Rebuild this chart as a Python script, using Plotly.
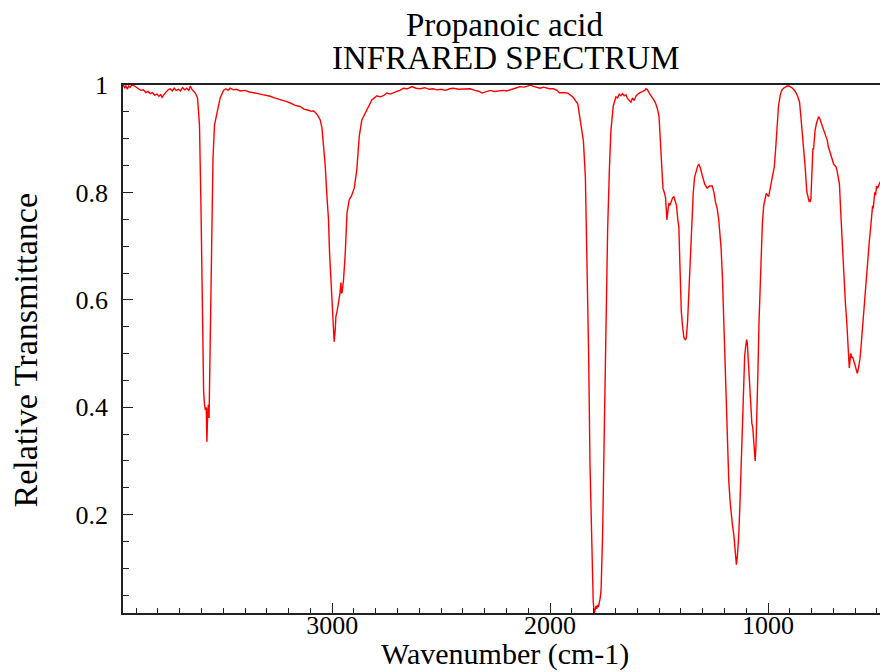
# IR spectrum of propanoic acid, redrawn with Plotly.

import plotly.graph_objects as go

# wavenumber (cm-1) and relative transmittance
wavenumber = [
    3963, 3958, 3952, 3947, 3940, 3934, 3927, 3920, 3911, 3900, 3890, 3878, 3866, 3855,
    3845, 3835, 3825, 3815, 3804, 3795, 3787, 3781, 3772, 3766, 3758, 3750, 3743, 3734,
    3725, 3716, 3705, 3696, 3687, 3676, 3667, 3658, 3651, 3644, 3636, 3628, 3618, 3609,
    3602, 3596, 3590, 3586, 3582, 3578, 3575, 3571, 3568, 3565, 3562, 3558, 3554, 3547,
    3540, 3529, 3514, 3499, 3488, 3478, 3468, 3453, 3440, 3422, 3400, 3380, 3361, 3340,
    3320, 3300, 3284, 3265, 3245, 3225, 3208, 3190, 3170, 3147, 3130, 3109, 3095, 3086,
    3075, 3063, 3055, 3047, 3040, 3032, 3024, 3017, 3012, 3006, 3001, 2996, 2991, 2986,
    2983, 2977, 2971, 2965, 2960, 2957, 2954, 2948, 2940, 2932, 2922, 2910, 2899, 2887,
    2876, 2864, 2849, 2834, 2818, 2795, 2780, 2765, 2749, 2734, 2715, 2703, 2690, 2673,
    2655, 2634, 2615, 2596, 2575, 2555, 2537, 2520, 2500, 2480, 2461, 2444, 2420, 2395,
    2367, 2345, 2325, 2313, 2300, 2288, 2275, 2255, 2235, 2215, 2199, 2180, 2160, 2138,
    2118, 2104, 2092, 2080, 2060, 2046, 2030, 2003, 1985, 1968, 1957, 1940, 1919, 1896,
    1873, 1858, 1847, 1838, 1831, 1823, 1817, 1809, 1802, 1797, 1793, 1789, 1785, 1782,
    1778, 1774, 1770, 1766, 1759, 1751, 1744, 1736, 1728, 1721, 1710, 1698, 1690, 1683,
    1675, 1668, 1660, 1652, 1645, 1637, 1629, 1622, 1614, 1605, 1591, 1575, 1566, 1560,
    1553, 1545, 1538, 1530, 1522, 1515, 1507, 1500, 1494, 1488, 1482, 1476, 1470, 1464,
    1459, 1455, 1450, 1444, 1438, 1432, 1426, 1420, 1414, 1409, 1404, 1398, 1392, 1386,
    1380, 1375, 1369, 1363, 1355, 1349, 1343, 1337, 1330, 1322, 1317, 1310, 1302, 1290,
    1279, 1268, 1256, 1248, 1241, 1233, 1226, 1220, 1215, 1209, 1203, 1197, 1191, 1185,
    1180, 1174, 1169, 1163, 1157, 1151, 1147, 1145, 1141, 1138, 1134, 1128, 1123, 1118,
    1114, 1110, 1107, 1102, 1098, 1095, 1091, 1088, 1083, 1078, 1074, 1070, 1066, 1062,
    1059, 1055, 1050, 1046, 1041, 1036, 1032, 1026, 1020, 1014, 1008, 1002, 997, 991,
    987, 982, 977, 971, 965, 959, 952, 944, 937, 929, 921, 912, 904, 898,
    890, 883, 875, 865, 860, 855, 849, 843, 837, 830, 822, 816, 812, 809,
    806, 803, 799, 797, 794, 791, 788, 784, 778, 773, 768, 763, 758, 753,
    748, 743, 738, 733, 728, 723, 718, 713, 708, 703, 698, 693, 688, 683,
    678, 672, 667, 662, 657, 651, 645, 639, 633, 627, 624, 621, 619, 616,
    612, 608, 604, 600, 598, 594, 590, 586, 582, 578, 575, 570, 566, 562,
    556, 551, 547, 541, 535, 530, 524, 520, 517, 514, 510, 506, 502, 497,
    492, 489, 485,
]
transmittance = [
    0.998, 1.000, 0.994, 0.999, 0.992, 0.998, 0.996, 1.000, 0.999, 0.996, 0.994, 0.990, 0.991, 0.986,
    0.988, 0.984, 0.986, 0.981, 0.983, 0.979, 0.982, 0.977, 0.982, 0.986, 0.989, 0.992, 0.993, 0.989,
    0.994, 0.990, 0.992, 0.989, 0.995, 0.991, 0.994, 0.990, 0.998, 0.992, 0.988, 0.985, 0.976, 0.926,
    0.770, 0.585, 0.430, 0.405, 0.395, 0.400, 0.336, 0.395, 0.405, 0.380, 0.450, 0.560, 0.710, 0.864,
    0.926, 0.950, 0.976, 0.990, 0.993, 0.990, 0.994, 0.991, 0.992, 0.989, 0.990, 0.987, 0.986, 0.984,
    0.982, 0.981, 0.979, 0.976, 0.974, 0.971, 0.969, 0.966, 0.962, 0.960, 0.955, 0.953, 0.951, 0.952,
    0.948, 0.941, 0.935, 0.920, 0.892, 0.850, 0.792, 0.750, 0.687, 0.640, 0.594, 0.560, 0.522, 0.545,
    0.569, 0.580, 0.594, 0.610, 0.632, 0.612, 0.615, 0.637, 0.687, 0.762, 0.786, 0.795, 0.808, 0.842,
    0.904, 0.935, 0.947, 0.960, 0.972, 0.980, 0.978, 0.980, 0.985, 0.983, 0.987, 0.988, 0.990, 0.994,
    0.993, 0.997, 0.994, 0.993, 0.995, 0.992, 0.993, 0.991, 0.992, 0.990, 0.993, 0.994, 0.992, 0.993,
    0.993, 0.990, 0.988, 0.985, 0.987, 0.989, 0.990, 0.988, 0.989, 0.990, 0.989, 0.992, 0.994, 0.997,
    0.996, 0.998, 1.000, 0.998, 0.995, 0.994, 0.996, 0.993, 0.993, 0.990, 0.985, 0.986, 0.985, 0.978,
    0.965, 0.928, 0.895, 0.828, 0.695, 0.496, 0.296, 0.130, 0.037, 0.017, 0.024, 0.030, 0.025, 0.032,
    0.028, 0.035, 0.045, 0.060, 0.163, 0.363, 0.562, 0.729, 0.842, 0.915, 0.961, 0.978, 0.976, 0.983,
    0.980, 0.984, 0.980, 0.982, 0.975, 0.972, 0.968, 0.976, 0.971, 0.980, 0.985, 0.988, 0.990, 0.993,
    0.991, 0.985, 0.981, 0.976, 0.971, 0.965, 0.955, 0.941, 0.895, 0.840, 0.808, 0.800, 0.790, 0.749,
    0.775, 0.780, 0.776, 0.782, 0.790, 0.792, 0.782, 0.776, 0.750, 0.735, 0.662, 0.580, 0.550, 0.530,
    0.526, 0.528, 0.560, 0.620, 0.700, 0.760, 0.800, 0.828, 0.840, 0.850, 0.852, 0.845, 0.832, 0.815,
    0.808, 0.812, 0.812, 0.800, 0.782, 0.770, 0.749, 0.725, 0.695, 0.640, 0.562, 0.480, 0.396, 0.330,
    0.263, 0.225, 0.197, 0.180, 0.163, 0.130, 0.110, 0.107, 0.120, 0.140, 0.163, 0.230, 0.296, 0.370,
    0.429, 0.470, 0.496, 0.515, 0.526, 0.520, 0.490, 0.463, 0.420, 0.383, 0.370, 0.363, 0.340, 0.310,
    0.300, 0.330, 0.396, 0.470, 0.562, 0.630, 0.695, 0.740, 0.775, 0.790, 0.798, 0.795, 0.792, 0.805,
    0.815, 0.828, 0.840, 0.848, 0.880, 0.928, 0.960, 0.981, 0.990, 0.994, 0.996, 0.998, 0.998, 0.997,
    0.995, 0.992, 0.988, 0.980, 0.975, 0.968, 0.940, 0.910, 0.895, 0.850, 0.802, 0.790, 0.784, 0.785,
    0.782, 0.789, 0.840, 0.860, 0.882, 0.880, 0.905, 0.915, 0.928, 0.936, 0.941, 0.938, 0.932, 0.928,
    0.922, 0.918, 0.912, 0.905, 0.897, 0.885, 0.878, 0.868, 0.862, 0.855, 0.852, 0.850, 0.848, 0.840,
    0.830, 0.815, 0.770, 0.729, 0.680, 0.629, 0.595, 0.562, 0.520, 0.473, 0.485, 0.500, 0.499, 0.492,
    0.494, 0.489, 0.484, 0.478, 0.476, 0.470, 0.463, 0.470, 0.478, 0.490, 0.503, 0.530, 0.555, 0.576,
    0.610, 0.635, 0.649, 0.680, 0.709, 0.730, 0.762, 0.775, 0.770, 0.795, 0.800, 0.795, 0.812, 0.808,
    0.815, 0.818, 0.820,
]

x_ticks = [3000, 2000, 1000]
x_tick_labels = ["3000", "2000", "1000"]
y_ticks = [0.2, 0.4, 0.6, 0.8, 1.0]
y_tick_labels = ["0.2", "0.4", "0.6", "0.8", "1"]

FONT = "Liberation Serif"

fig = go.Figure()
fig.add_trace(go.Scatter(
    x=wavenumber,
    y=transmittance,
    mode="lines",
    line=dict(color="#ff0000", width=1.4),
    showlegend=False,
))

axis_common = dict(
    showgrid=False,
    zeroline=False,
    showline=True,
    linecolor="#222222",
    linewidth=1.6,
    ticks="inside",
    tickcolor="#222222",
    tickwidth=1.3,
    ticklen=10,
    tickfont=dict(family=FONT, size=26, color="black"),
)

fig.update_xaxes(
    **axis_common,
    range=[3960, 486],
    tickvals=x_ticks,
    ticktext=x_tick_labels,
    ticklabelstandoff=-12,
    mirror=True,
    minor=dict(dtick=100, ticks="inside", ticklen=5, tickcolor="#222222", tickwidth=1.2),
)
fig.update_yaxes(
    **axis_common,
    range=[0.017, 1.0],
    tickvals=y_ticks,
    ticktext=y_tick_labels,
    ticklabelstandoff=8,
    minor=dict(dtick=0.05, tick0=0, ticks="inside", ticklen=6, tickcolor="#222222", tickwidth=1.2),
)

annotations = [
    dict(text="Propanoic acid", x=0.505, y=1.1136, size=33),
    dict(text="INFRARED SPECTRUM", x=0.505, y=1.0511, size=33),
    dict(text="Wavenumber (cm-1)", x=0.505, y=-0.078, size=30),
]
for a in annotations:
    fig.add_annotation(
        text=a["text"], x=a["x"], y=a["y"], xref="paper", yref="paper",
        showarrow=False, xanchor="center", yanchor="middle",
        font=dict(family=FONT, size=a["size"], color="black"),
    )
fig.add_annotation(
    text="Relative Transmittance", x=-0.129, y=0.498, xref="paper", yref="paper",
    showarrow=False, textangle=-90, xanchor="center", yanchor="middle",
    font=dict(family=FONT, size=34, color="black"),
)

fig.update_layout(
    width=880,
    height=672,
    margin=dict(l=123, r=0, t=85, b=59),
    paper_bgcolor="white",
    plot_bgcolor="white",
)

# drop the browser's default 8px body margin so the figure sits at the top-left corner
fig.write_html(
    "out.html",
    config={"displayModeBar": False},
    post_script="document.body.style.margin='0';",
)
